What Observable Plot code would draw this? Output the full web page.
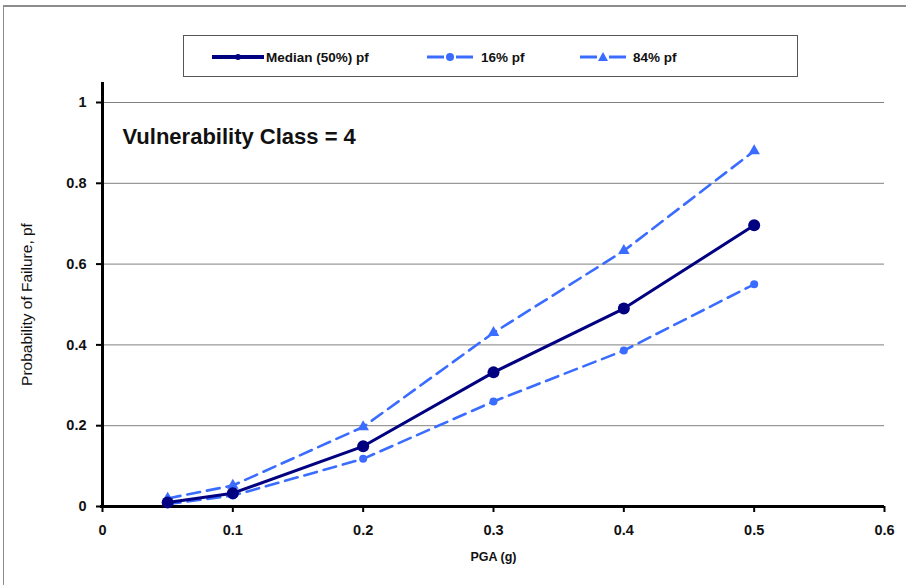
<!DOCTYPE html>
<html>
<head>
<meta charset="utf-8">
<script src="https://cdn.jsdelivr.net/npm/d3@7"></script>
<script src="https://cdn.jsdelivr.net/npm/@observablehq/plot@0.6"></script>
<style>
  html, body { margin: 0; padding: 0; background: #fff; overflow: hidden; }
  #wrap { position: relative; width: 906px; height: 585px; font-family: "Liberation Sans", Arial, sans-serif; }
  #frame { position: absolute; left: 3px; top: 5px; width: 1000px; height: 1000px; border-top: 2px solid #8c8c8c; border-left: 1px solid #8c8c8c; }
  #legend { position: absolute; left: 183px; top: 35px; width: 615px; height: 42px; border: 1px solid #555; background: #fff; box-sizing: border-box; }
  .item { position: absolute; top: 0; height: 42px; display: flex; align-items: center; font-weight: bold; font-size: 13.5px; color: #111; }
  .item svg { display: block; }
</style>
</head>
<body>
<div id="wrap">
  <div id="frame"></div>
  <div id="chart" style="position:absolute;left:0;top:0;"></div>
  <div id="legend"></div>
</div>
<script>
// ---- data ----
const pga = [0.05, 0.1, 0.2, 0.3, 0.4, 0.5];
const median = [0.01, 0.033, 0.149, 0.332, 0.49, 0.696];
const p16 = [0.006, 0.027, 0.118, 0.26, 0.386, 0.55];
const p84 = [0.02, 0.052, 0.197, 0.43, 0.633, 0.88];
const seriesNames = ["Median (50%) pf", "16% pf", "84% pf"];
const xTicks = [0, 0.1, 0.2, 0.3, 0.4, 0.5, 0.6];
const yTicks = [0, 0.2, 0.4, 0.6, 0.8, 1];
const xTitle = "PGA (g)";
const yTitle = "Probability of Failure, pf";
const annotation = "Vulnerability Class = 4";

const navy = "#000080";
const blue = "#3a6cff";
const font = "'Liberation Sans', Arial, sans-serif";

const rows = (vals) => pga.map((x, i) => ({x, y: vals[i]}));
const dMed = rows(median), d16 = rows(p16), d84 = rows(p84);

const plot = Plot.plot({
  width: 906,
  height: 585,
  marginLeft: 102,
  marginRight: 22,
  marginTop: 102,
  marginBottom: 79,
  style: {fontFamily: font, color: "#111", background: "transparent"},
  x: {domain: [0, 0.6]},
  y: {domain: [0, 1]},
  marks: [
    Plot.gridY(yTicks.filter(d => d > 0), {stroke: "#808080", strokeOpacity: 1, strokeWidth: 1}),
    Plot.axisY(yTicks, {tickSize: 6, label: null, stroke: "#000", strokeWidth: 2, tickFormat: () => ""}),
    Plot.axisX(xTicks, {tickSize: 6, label: null, stroke: "#000", strokeWidth: 2, tickFormat: () => ""}),
    Plot.text(yTicks, {y: d => d, frameAnchor: "left", dx: -16, text: d => String(d), textAnchor: "end", lineAnchor: "middle", fontWeight: "bold", fontSize: 14.5, fill: "#111"}),
    Plot.text(xTicks, {x: d => d, frameAnchor: "bottom", dy: 24, text: d => String(d), textAnchor: "middle", lineAnchor: "middle", fontWeight: "bold", fontSize: 14.5, fill: "#111"}),
    Plot.ruleX([0], {stroke: "#000", strokeWidth: 3, insetTop: -20}),
    Plot.ruleY([0], {stroke: "#000", strokeWidth: 3, insetLeft: -2}),
    // 16%
    Plot.line(d16, {x: "x", y: "y", stroke: blue, strokeWidth: 2.6, strokeDasharray: "13,7"}),
    Plot.dot(d16, {x: "x", y: "y", r: 4, fill: blue, stroke: "none"}),
    // 84%
    Plot.line(d84, {x: "x", y: "y", stroke: blue, strokeWidth: 2.6, strokeDasharray: "13,7"}),
    Plot.dot(d84, {x: "x", y: "y", r: 4.3, symbol: "triangle", fill: blue, stroke: "none"}),
    // median
    Plot.line(dMed, {x: "x", y: "y", stroke: navy, strokeWidth: 3}),
    Plot.dot(dMed, {x: "x", y: "y", r: 6, fill: navy, stroke: "none"}),
    // annotation and titles
    Plot.text([annotation], {frameAnchor: "top-left", dx: 20, dy: 34, text: d => d, fontWeight: "bold", fontSize: 22, fill: "#111", textAnchor: "start", lineAnchor: "middle"}),
    Plot.text([xTitle], {frameAnchor: "bottom", dy: 50, text: d => d, fontWeight: "bold", fontSize: 12.5, fill: "#111", textAnchor: "middle", lineAnchor: "middle"}),
    Plot.text([yTitle], {frameAnchor: "left", dx: -75, rotate: -90, text: d => d, fontSize: 15.5, fill: "#111", textAnchor: "middle", lineAnchor: "middle"})
  ]
});
document.getElementById("chart").appendChild(plot);

// ---- legend ----
const legend = document.getElementById("legend");
const items = [
  {name: seriesNames[0], left: 28, sw: 52, color: navy, width: 4, dash: null, marker: "circle", mr: 3},
  {name: seriesNames[1], left: 243, sw: 46, color: blue, width: 3, dash: "14,6", marker: "circle", mr: 4, gap: 8},
  {name: seriesNames[2], left: 396, sw: 46, color: blue, width: 3, dash: "14,6", marker: "triangle", mr: 5, gap: 7}
];
for (const it of items) {
  const div = document.createElement("div");
  div.className = "item";
  div.style.left = it.left + "px";
  const w = it.sw, h = 14, cy = 7;
  let marker = it.marker === "circle"
    ? `<circle cx="${w/2}" cy="${cy}" r="${it.mr}" fill="${it.color}"/>`
    : `<path d="M${w/2},${cy-5} L${w/2+5},${cy+4} L${w/2-5},${cy+4} Z" fill="${it.color}"/>`;
  const line = it.dash
    ? `<line x1="0" y1="${cy}" x2="${w/2-6}" y2="${cy}" stroke="${it.color}" stroke-width="${it.width}"/><line x1="${w/2+6}" y1="${cy}" x2="${w}" y2="${cy}" stroke="${it.color}" stroke-width="${it.width}"/>`
    : `<line x1="0" y1="${cy}" x2="${w}" y2="${cy}" stroke="${it.color}" stroke-width="${it.width}" stroke-linecap="round"/>`;
  div.innerHTML = `<svg width="${w}" height="${h}">${line}${marker}</svg><span style="margin-left:${it.gap || 2}px">${it.name}</span>`;
  legend.appendChild(div);
}
</script>
</body>
</html>
